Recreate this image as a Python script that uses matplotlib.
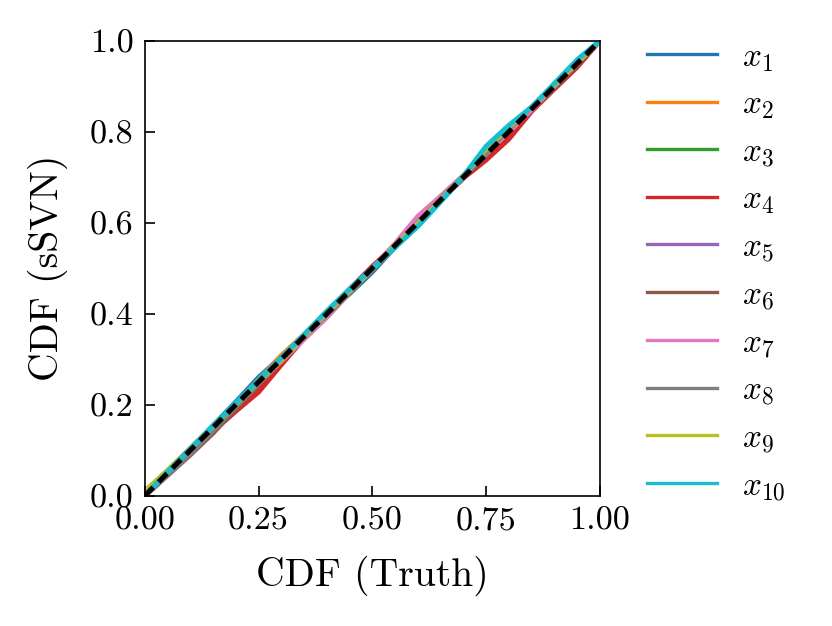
import matplotlib
matplotlib.use("Agg")
import matplotlib.pyplot as plt

plt.rcParams['font.family'] = 'serif'
plt.rcParams['font.serif'] = ['cmr10', 'DejaVu Serif']
plt.rcParams['mathtext.fontset'] = 'cm'
plt.rcParams['axes.formatter.use_mathtext'] = True

x_grid = [0.00, 0.05, 0.10, 0.15, 0.20, 0.25, 0.30, 0.35, 0.40, 0.45, 0.50,
          0.55, 0.60, 0.65, 0.70, 0.75, 0.80, 0.85, 0.90, 0.95, 1.00]

x1 = [0.000, 0.053, 0.102, 0.154, 0.206, 0.260, 0.305, 0.353, 0.402, 0.444, 0.492,
      0.547, 0.600, 0.652, 0.700, 0.748, 0.803, 0.852, 0.900, 0.948, 1.000]
x2 = [0.000, 0.052, 0.104, 0.153, 0.202, 0.255, 0.308, 0.354, 0.402, 0.450, 0.498,
      0.550, 0.602, 0.650, 0.698, 0.746, 0.797, 0.850, 0.898, 0.947, 1.000]
x3 = [0.000, 0.048, 0.096, 0.144, 0.188, 0.234, 0.295, 0.348, 0.400, 0.452, 0.500,
      0.548, 0.600, 0.652, 0.700, 0.746, 0.797, 0.850, 0.898, 0.949, 1.000]
x4 = [0.000, 0.047, 0.094, 0.142, 0.186, 0.228, 0.288, 0.346, 0.402, 0.454, 0.504,
      0.550, 0.598, 0.650, 0.698, 0.738, 0.784, 0.845, 0.894, 0.942, 1.000]
x5 = [0.000, 0.054, 0.103, 0.152, 0.200, 0.254, 0.302, 0.352, 0.403, 0.450, 0.498,
      0.550, 0.604, 0.653, 0.700, 0.750, 0.802, 0.850, 0.898, 0.950, 1.000]
x6 = [0.000, 0.045, 0.090, 0.138, 0.192, 0.245, 0.297, 0.346, 0.398, 0.450, 0.500,
      0.548, 0.600, 0.652, 0.700, 0.748, 0.802, 0.850, 0.898, 0.947, 1.000]
x7 = [0.000, 0.054, 0.102, 0.150, 0.198, 0.248, 0.296, 0.344, 0.392, 0.446, 0.500,
      0.554, 0.614, 0.658, 0.704, 0.752, 0.800, 0.848, 0.900, 0.952, 1.000]
x8 = [0.000, 0.047, 0.092, 0.144, 0.196, 0.248, 0.298, 0.350, 0.398, 0.446, 0.497,
      0.546, 0.600, 0.652, 0.702, 0.754, 0.806, 0.854, 0.900, 0.950, 1.000]
x9 = [0.010, 0.056, 0.104, 0.153, 0.202, 0.252, 0.298, 0.350, 0.402, 0.450, 0.498,
      0.550, 0.598, 0.650, 0.702, 0.762, 0.810, 0.854, 0.902, 0.952, 1.000]
x10 = [0.000, 0.052, 0.103, 0.154, 0.204, 0.254, 0.303, 0.354, 0.406, 0.454, 0.500,
       0.546, 0.592, 0.646, 0.702, 0.768, 0.814, 0.854, 0.906, 0.958, 1.000]

series = [x1, x2, x3, x4, x5, x6, x7, x8, x9, x10]
labels = [r'$x_{%d}$' % (i + 1) for i in range(10)]
colors = ['#1f77b4', '#ff7f0e', '#2ca02c', '#d62728', '#9467bd',
          '#8c564b', '#e377c2', '#7f7f7f', '#bcbd22', '#17becf']

diag = [0.0, 1.0]
x_ticks = [0.0, 0.25, 0.5, 0.75, 1.0]
y_ticks = [0.0, 0.2, 0.4, 0.6, 0.8, 1.0]

fig = plt.figure(figsize=(4.16, 3.13), dpi=200)
ax = fig.add_axes([0.174, 0.208, 0.547, 0.727])

for ys, lab, c in zip(series, labels, colors):
    ax.plot(x_grid, ys, color=c, lw=1.8, label=lab)
ax.plot(diag, diag, color='black', lw=1.8, dashes=(2.4, 1.5))

ax.set_xlim(0, 1)
ax.set_ylim(0, 1)
ax.set_xticks(x_ticks)
ax.set_yticks(y_ticks)
ax.xaxis.set_major_formatter(matplotlib.ticker.FormatStrFormatter('%.2f'))
ax.yaxis.set_major_formatter(matplotlib.ticker.FormatStrFormatter('%.1f'))
ax.tick_params(direction='in', length=3.5, width=0.6, labelsize=12.3, pad=4)
for s in ax.spines.values():
    s.set_linewidth(0.6)

ax.set_xlabel('CDF (Truth)', fontsize=14.3, labelpad=7)
ax.set_ylabel('CDF (sSVN)', fontsize=14.3, labelpad=8)

leg = ax.legend(loc='upper left', bbox_to_anchor=(1.075, 1.025), frameon=False,
                fontsize=12, handlelength=2.1, handletextpad=0.75, labelspacing=0.49,
                borderaxespad=0)
for h in leg.get_lines():
    h.set_linewidth(1.2)

fig.savefig('out.png', dpi=200)
